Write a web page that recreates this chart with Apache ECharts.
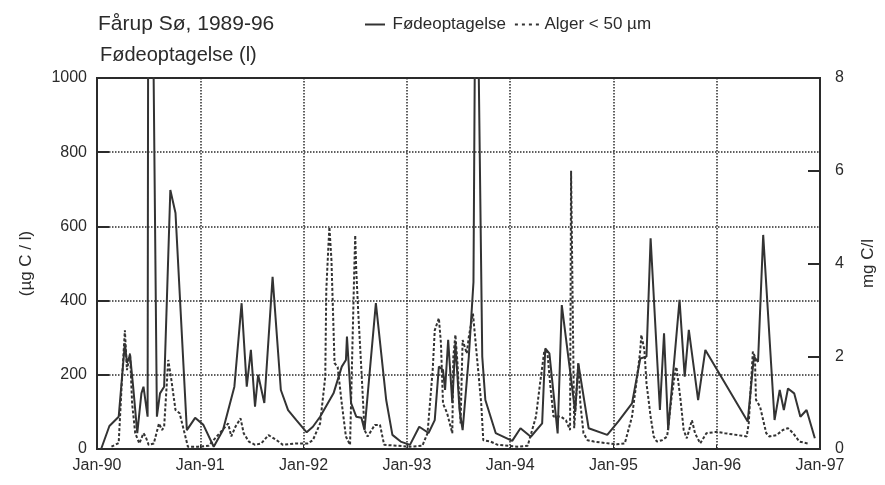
<!DOCTYPE html>
<html>
<head>
<meta charset="utf-8">
<script src="https://cdn.jsdelivr.net/npm/echarts@6/dist/echarts.min.js"></script>
<style>
    html, body { margin: 0; padding: 0; background: #fff; }
    #chart { width: 885px; height: 485px; }
</style>
</head>
<body>
<div id="chart"></div>
<script>
// x-axis tick labels (one per January)
const yearLabels = ['Jan-90', 'Jan-91', 'Jan-92', 'Jan-93', 'Jan-94', 'Jan-95', 'Jan-96', 'Jan-97'];

// Fødeoptagelse, µg C/l (left axis), x in decimal years
// the two spikes run off the top of the scale in the original
const feedDates = [
    1990.04, 1990.12, 1990.21, 1990.27, 1990.29, 1990.32, 1990.35, 1990.39, 1990.43, 1990.45,
    1990.49, 1990.495, 1990.545, 1990.58, 1990.61, 1990.65, 1990.71, 1990.76, 1990.87, 1990.95,
    1991.03, 1991.13, 1991.22, 1991.33, 1991.40, 1991.45, 1991.49, 1991.53, 1991.56, 1991.62,
    1991.70, 1991.78, 1991.85, 1991.93, 1992.03, 1992.09, 1992.16, 1992.29, 1992.37, 1992.41,
    1992.42, 1992.46, 1992.51, 1992.56, 1992.59, 1992.70, 1992.80, 1992.86, 1992.94, 1993.03,
    1993.12, 1993.21, 1993.27, 1993.31, 1993.35, 1993.37, 1993.40, 1993.44, 1993.47, 1993.51,
    1993.54, 1993.60, 1993.645, 1993.67, 1993.73, 1993.76, 1993.86, 1994.02, 1994.10, 1994.20,
    1994.31, 1994.34, 1994.38, 1994.46, 1994.50, 1994.63, 1994.66, 1994.76, 1994.94, 1995.05,
    1995.18, 1995.26, 1995.32, 1995.36, 1995.45, 1995.49, 1995.53, 1995.64, 1995.69, 1995.73,
    1995.82, 1995.89, 1996.30, 1996.36, 1996.40, 1996.45, 1996.56, 1996.61, 1996.65, 1996.69,
    1996.75, 1996.81, 1996.87, 1996.95
];
const feedValues = [
    0, 62, 87, 285, 232, 253, 168, 43, 150, 168,
    87, 1100, 1100, 87, 150, 168, 698, 636, 51, 84,
    65, 6, 51, 168, 393, 168, 267, 114, 200, 124,
    464, 159, 105, 78, 45, 60, 87, 150, 222, 240,
    303, 124, 87, 84, 51, 393, 132, 38, 20, 11,
    60, 43, 78, 222, 213, 159, 294, 124, 285, 105,
    51, 249, 450, 1600, 249, 132, 43, 22, 56, 33,
    69, 271, 258, 42, 388, 100, 231, 56, 38, 75,
    123, 244, 249, 568, 105, 312, 51, 402, 195, 321,
    132, 267, 74, 249, 235, 577, 78, 159, 105, 163,
    150, 87, 105, 29
];

// Alger < 50 µm, mg C/l (right axis)
const algaeDates = [
    1990.14, 1990.21, 1990.24, 1990.27, 1990.29, 1990.32, 1990.34, 1990.37, 1990.41, 1990.45,
    1990.47, 1990.50, 1990.55, 1990.60, 1990.63, 1990.65, 1990.69, 1990.72, 1990.76, 1990.80,
    1990.88, 1990.98, 1991.08, 1991.27, 1991.30, 1991.34, 1991.39, 1991.42, 1991.47, 1991.53,
    1991.59, 1991.66, 1991.74, 1991.80, 1991.92, 1992.04, 1992.09, 1992.16, 1992.21, 1992.22,
    1992.24, 1992.25, 1992.27, 1992.30, 1992.33, 1992.37, 1992.41, 1992.45, 1992.49, 1992.50,
    1992.51, 1992.53, 1992.56, 1992.59, 1992.62, 1992.69, 1992.74, 1992.78, 1993.03, 1993.15,
    1993.20, 1993.25, 1993.27, 1993.31, 1993.33, 1993.35, 1993.39, 1993.44, 1993.45, 1993.47,
    1993.49, 1993.52, 1993.54, 1993.58, 1993.60, 1993.64, 1993.72, 1993.74, 1993.81, 1993.88,
    1994.07, 1994.17, 1994.25, 1994.29, 1994.33, 1994.36, 1994.39, 1994.42, 1994.49, 1994.54,
    1994.58, 1994.59, 1994.62, 1994.66, 1994.68, 1994.71, 1994.75, 1994.81, 1995.03, 1995.11,
    1995.18, 1995.23, 1995.26, 1995.27, 1995.30, 1995.32, 1995.36, 1995.39, 1995.42, 1995.47,
    1995.52, 1995.56, 1995.60, 1995.61, 1995.65, 1995.68, 1995.71, 1995.76, 1995.79, 1995.84,
    1995.90, 1996.00, 1996.08, 1996.29, 1996.31, 1996.33, 1996.35, 1996.37, 1996.38, 1996.42,
    1996.45, 1996.48, 1996.51, 1996.58, 1996.64, 1996.69, 1996.74, 1996.80, 1996.88
];
const algaeValues = [
    0.05, 0.13, 1.42, 2.56, 1.70, 2.06, 0.98, 0.34, 0.12, 0.34,
    0.27, 0.09, 0.12, 0.55, 0.41, 0.48, 1.92, 1.49, 0.84, 0.77,
    0.05, 0.05, 0.07, 0.55, 0.27, 0.48, 0.66, 0.34, 0.16, 0.09,
    0.12, 0.30, 0.19, 0.09, 0.12, 0.12, 0.19, 0.55, 1.56, 3.43,
    4.36, 4.79, 4.07, 1.85, 1.77, 0.98, 0.27, 0.09, 3.79, 4.61,
    3.86, 2.92, 1.70, 0.41, 0.27, 0.52, 0.52, 0.09, 0.05, 0.07,
    0.34, 1.70, 2.56, 2.82, 2.28, 0.98, 0.77, 0.34, 1.99, 2.46,
    1.85, 0.55, 2.35, 2.06, 2.42, 2.92, 0.98, 0.19, 0.16, 0.09,
    0.05, 0.07, 0.70, 1.42, 2.10, 2.10, 1.34, 0.70, 0.70, 0.62,
    0.41, 6.00, 0.45, 1.85, 0.98, 0.34, 0.19, 0.16, 0.10, 0.12,
    0.70, 1.56, 2.13, 2.46, 2.13, 1.42, 0.70, 0.27, 0.16, 0.19,
    0.27, 1.06, 1.70, 1.77, 1.06, 0.41, 0.23, 0.62, 0.34, 0.12,
    0.34, 0.37, 0.34, 0.27, 0.55, 1.34, 2.10, 1.99, 1.06, 0.91,
    0.62, 0.34, 0.27, 0.30, 0.41, 0.45, 0.34, 0.16, 0.12
];

const FONT = 'Liberation Sans, Arial, sans-serif';
const INK = '#2b2b2b';

// flat legend marks: a bar for the solid line, four dots for the dotted one
const ICON_SOLID = 'path://M0,0H20V2H0Z';
const ICON_DOTS = 'path://M0,0H3V2H0Z M7,0H10V2H7Z M14,0H17V2H14Z M21,0H24V2H21Z';

const chart = echarts.init(document.getElementById('chart'));

const option = {
    backgroundColor: '#fff',
    animation: false,
    textStyle: { fontFamily: FONT, color: INK },
    title: [
        {
            text: 'Fårup Sø, 1989-96',
            left: 93,
            top: 9,
            textStyle: { fontFamily: FONT, fontSize: 21, fontWeight: 'normal', color: INK }
        },
        {
            text: 'Fødeoptagelse (l)',
            left: 95,
            top: 40,
            textStyle: { fontFamily: FONT, fontSize: 20, fontWeight: 'normal', color: INK }
        }
    ],
    legend: {
        left: 360,
        top: 11,
        itemHeight: 2,
        itemGap: 9,
        textStyle: { fontFamily: FONT, fontSize: 17, color: INK },
        data: [
            { name: 'Fødeoptagelse', icon: ICON_SOLID, itemWidth: 20 },
            { name: 'Alger < 50 µm', icon: ICON_DOTS, itemWidth: 24 }
        ]
    },
    grid: {
        left: 97,
        right: 61,
        top: 78,
        bottom: 36,
        show: true,
        borderColor: INK,
        borderWidth: 2
    },
    xAxis: {
        type: 'value',
        min: 1990,
        max: 1997,
        interval: 1,
        axisLine: { onZero: false, lineStyle: { color: INK, width: 2 } },
        axisTick: { inside: true, length: 4, lineStyle: { color: INK } },
        axisLabel: {
            fontFamily: FONT,
            fontSize: 16,
            color: INK,
            margin: 9,
            formatter: function (v) { return yearLabels[Math.round(v - 1990)]; }
        },
        splitLine: { show: true, lineStyle: { color: INK, type: 'dotted', width: 1.5 } }
    },
    yAxis: [
        {
            type: 'value',
            min: 0,
            max: 1000,
            interval: 200,
            name: '(µg C / l)',
            nameLocation: 'middle',
            nameGap: 62,
            nameTextStyle: { fontFamily: FONT, fontSize: 17, color: INK },
            axisLine: { show: true, lineStyle: { color: INK, width: 2 } },
            axisTick: { show: true, inside: true, length: 12, lineStyle: { color: INK, width: 2 } },
            axisLabel: {
                fontFamily: FONT, fontSize: 16, color: INK, margin: 10,
                formatter: function (v) { return String(v); }
            },
            splitLine: { show: true, lineStyle: { color: INK, type: 'dotted', width: 1.5 } }
        },
        {
            type: 'value',
            min: 0,
            max: 8,
            interval: 2,
            position: 'right',
            name: 'mg C/l',
            nameLocation: 'middle',
            nameGap: 40,
            nameTextStyle: { fontFamily: FONT, fontSize: 17, color: INK },
            axisLine: { show: true, lineStyle: { color: INK, width: 2 } },
            axisTick: { show: true, inside: true, length: 12, lineStyle: { color: INK, width: 2 } },
            axisLabel: { fontFamily: FONT, fontSize: 16, color: INK, margin: 15 },
            splitLine: { show: false }
        }
    ],
    series: [
        {
            name: 'Fødeoptagelse',
            type: 'line',
            yAxisIndex: 0,
            symbol: 'none',
            clip: true,
            lineStyle: { color: '#333', width: 2 },
            itemStyle: { color: '#333' },
            data: feedDates.map(function (d, i) { return [d, feedValues[i]]; })
        },
        {
            name: 'Alger < 50 µm',
            type: 'line',
            yAxisIndex: 1,
            symbol: 'none',
            clip: true,
            lineStyle: { color: '#333', width: 2, type: [3, 2] },
            itemStyle: { color: '#333' },
            data: algaeDates.map(function (d, i) { return [d, algaeValues[i]]; })
        }
    ]
};

chart.setOption(option);
</script>
</body>
</html>
